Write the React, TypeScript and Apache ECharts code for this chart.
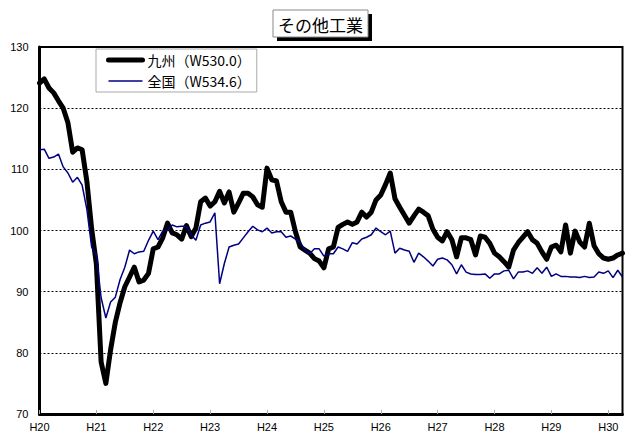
import React, { useEffect, useRef } from "react";
import * as echarts from "echarts";

const yearLabels = ["H20", "H21", "H22", "H23", "H24", "H25", "H26", "H27", "H28", "H29", "H30"];
const monthCount = 124;

const kyushu = [
  124.1, 124.8, 123.3, 122.5, 121.2, 120.0, 117.6, 112.8, 113.5, 113.2, 108.0, 100.3,
  94.5, 78.5, 75.0, 80.5, 85.0, 88.2, 90.8, 92.4, 94.0, 91.6, 91.9, 93.0,
  97.0, 97.3, 98.8, 101.2, 99.6, 99.3, 98.6, 100.8, 99.0, 100.4, 104.7, 105.3,
  104.0, 104.7, 106.4, 104.5, 106.3, 103.0, 104.5, 106.1, 106.1, 105.5, 104.2, 103.8,
  110.2, 108.3, 108.1, 104.7, 103.0, 103.0, 99.8, 97.3, 96.8, 96.3, 95.4, 95.0,
  93.9, 97.0, 97.3, 100.5, 101.0, 101.4, 101.0, 101.4, 103.0, 102.2, 103.0, 105.0,
  105.8, 107.5, 109.4, 105.2, 103.8, 102.5, 101.2, 102.4, 103.5, 103.0, 102.4, 100.2,
  98.9, 98.3, 99.8, 98.5, 95.7, 98.8, 98.8, 98.5, 96.0, 99.1, 98.9, 97.9,
  96.3, 95.7, 94.9, 94.0, 96.8, 98.0, 98.9, 99.8, 98.5, 97.9, 96.5, 95.3,
  97.3, 97.6, 96.5, 100.9, 96.3, 99.9, 98.1, 97.3, 101.2, 97.5, 96.2, 95.5,
  95.3, 95.5, 96.0, 96.3,
];

const zenkoku = [
  113.2, 113.3, 111.8, 112.0, 112.5, 110.4, 109.4, 107.9, 108.7, 107.4, 103.4, 97.3,
  96.0, 89.0, 85.7, 88.3, 89.1, 92.0, 94.0, 96.8, 96.2, 96.5, 96.6, 98.4,
  99.9, 98.5, 99.9, 100.1, 100.9, 100.6, 100.7, 100.7, 99.3, 98.4, 100.9, 101.2,
  101.4, 102.9, 91.3, 94.6, 97.3, 97.6, 97.8, 98.8, 99.8, 100.7, 100.1, 99.8,
  100.4, 99.6, 99.8, 99.8, 98.9, 99.1, 98.6, 98.1, 96.8, 96.2, 97.0, 97.0,
  95.8, 96.2, 96.2, 97.3, 97.0, 96.6, 98.0, 97.8, 98.6, 98.9, 99.3, 100.4,
  99.8, 99.3, 99.9, 96.3, 97.1, 96.8, 96.6, 94.8, 96.3, 95.7, 95.0, 94.2,
  95.3, 95.5, 95.2, 94.4, 92.9, 94.4, 93.2, 92.9, 92.8, 92.8, 92.9, 92.2,
  92.9, 92.9, 93.4, 93.5, 92.1, 93.2, 93.2, 93.4, 93.0, 93.9, 93.0, 94.0,
  92.5, 92.9, 92.5, 92.5, 92.4, 92.4, 92.3, 92.5, 92.3, 92.4, 93.2, 93.0,
  93.4, 92.3, 93.5, 92.4,
];

const seriesNames = ["九州（W530.0）", "全国（W534.6）"];
const titleText = "その他工業";

const categories: string[] = [];
for (const y of yearLabels) {
  for (let m = 1; m <= 12; m++) {
    if (categories.length < monthCount) categories.push(`${y}.${m}`);
  }
}

const latin = "'Liberation Sans', 'Noto Sans CJK JP', sans-serif";
const cjk = "'Noto Sans CJK JP', 'Liberation Sans', sans-serif";

export default function App() {
  const ref = useRef<HTMLDivElement>(null);
  useEffect(() => {
    document.body.style.margin = "0";
    const chart = echarts.init(ref.current!, undefined, { renderer: "svg" });
    chart.setOption({
      animation: false,
      backgroundColor: "#fff",
      grid: {
        left: 39.5,
        right: 12.5,
        top: 47,
        bottom: 23,
        show: true,
        borderColor: "#000",
        borderWidth: 2,
        containLabel: false,
      },
      legend: {
        left: 96,
        top: 49,
        orient: "vertical",
        itemWidth: 34,
        itemHeight: 14,
        itemGap: 7,
        padding: [4, 6, 4, 10],
        borderColor: "#aaa",
        borderWidth: 1,
        backgroundColor: "#fff",
        data: [
          { name: seriesNames[0], lineStyle: { width: 5, color: "#000" } },
          { name: seriesNames[1], lineStyle: { width: 1.5, color: "#000080" } },
        ],
        itemStyle: { opacity: 0 },
        textStyle: { fontSize: 14, color: "#000", fontFamily: cjk },
      },
      xAxis: {
        type: "category",
        boundaryGap: false,
        data: categories,
        axisLine: { lineStyle: { color: "#000", width: 3 } },
        axisTick: {
          inside: true,
          length: 4,
          interval: (idx: number) => idx % 12 === 0,
          lineStyle: { color: "#aaa", width: 1 },
        },
        axisLabel: {
          interval: (idx: number) => idx % 12 === 0,
          formatter: (v: string) => v.split(".")[0],
          fontSize: 11,
          color: "#000",
          fontFamily: latin,
          margin: 7,
        },
        splitLine: { show: false },
      },
      yAxis: {
        type: "value",
        min: 70,
        max: 130,
        interval: 10,
        axisLine: { show: true, lineStyle: { color: "#000", width: 3 } },
        axisTick: { show: false },
        axisLabel: { fontSize: 11, color: "#000", fontFamily: latin, margin: 11 },
        splitLine: { show: true, lineStyle: { color: "#000", type: [2, 2], width: 1 } },
      },
      series: [
        {
          name: seriesNames[0],
          type: "line",
          data: kyushu,
          symbol: "none",
          lineStyle: { color: "#000", width: 5, join: "round", cap: "round" },
          itemStyle: { color: "#000" },
          z: 3,
        },
        {
          name: seriesNames[1],
          type: "line",
          data: zenkoku,
          symbol: "none",
          lineStyle: { color: "#000080", width: 1.5 },
          itemStyle: { color: "#000080" },
          z: 4,
        },
      ],
      graphic: [
        { type: "rect", shape: { x: 277, y: 14, width: 95, height: 27 }, style: { fill: "#000" }, z: 10 },
        {
          type: "rect",
          shape: { x: 273, y: 10, width: 95, height: 27 },
          style: { fill: "#fff", stroke: "#888", lineWidth: 1 },
          z: 11,
        },
        {
          type: "text",
          x: 320.5,
          y: 24,
          z: 12,
          style: {
            text: titleText,
            fontSize: 17,
            fill: "#000",
            align: "center",
            verticalAlign: "middle",
            fontFamily: cjk,
          },
        },
      ],
    });
    return () => chart.dispose();
  }, []);
  return (
    <div
      ref={ref}
      style={{ position: "fixed", left: 0, top: 0, width: 635, height: 437 }}
    />
  );
}
